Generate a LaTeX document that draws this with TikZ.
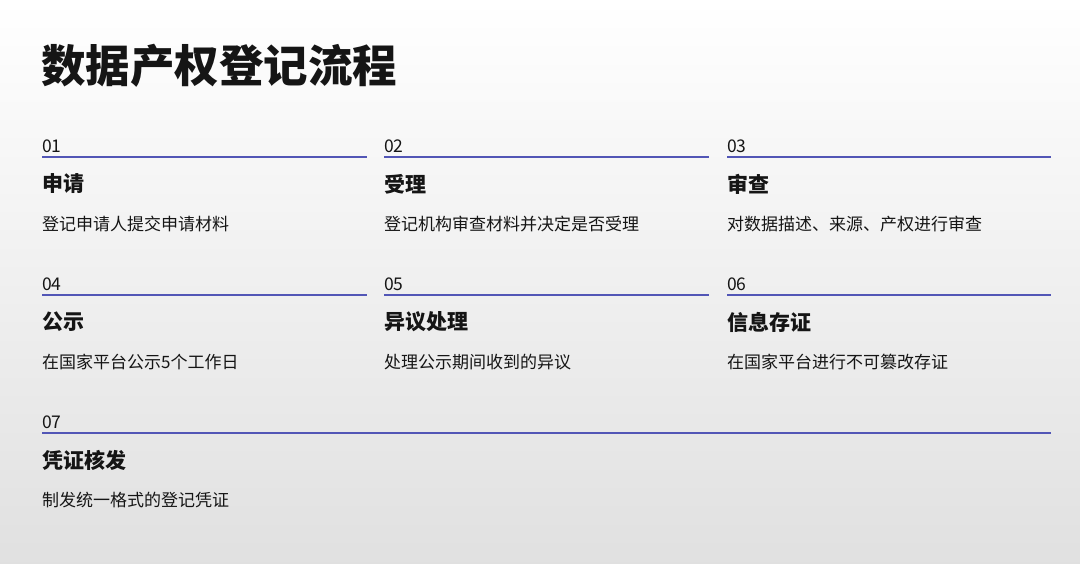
\documentclass[tikz,border=0pt]{standalone}
\usepackage{fontspec}
\setmainfont{Noto Sans CJK SC}
\usetikzlibrary{positioning}
\definecolor{ruleblue}{HTML}{5256B6}
\definecolor{inkdark}{HTML}{151515}

\begin{document}
\begin{tikzpicture}[x=1pt, y=1pt, text=inkdark, inner sep=0pt,
      num/.style={anchor=base west, font=\fontsize{17.5}{17.5}\selectfont},
      head/.style={anchor=west, font=\fontsize{21}{21}\selectfont\bfseries},
      desc/.style={anchor=west, font=\fontsize{17}{17}\selectfont},
      rule/.style={draw=ruleblue, line width=2.6pt}]
    % background
    \shade[top color=white, bottom color=black!12] (0,0) rectangle (1080,-563);
    \useasboundingbox (0,0) rectangle (1080,-563);
    \node[anchor=west, font=\fontsize{44.5}{44.5}\selectfont\bfseries] (title) at (41,-66) {数据产权登记流程};

    % row 1
    \node[num] (n01) at (42,-152) {01};
    \node[num] (n02) at (384,-152) {02};
    \node[num] (n03) at (727,-152) {03};
    \draw[rule] ([yshift=-5pt]n01.base west) -- ++(325,0);
    \draw[rule] ([yshift=-5pt]n02.base west) -- ++(325,0);
    \draw[rule] ([yshift=-5pt]n03.base west) -- ++(324,0);
    \node[head, below=32pt of n01.base west, anchor=west] (h01) {申请};
    \node[head, below=32pt of n02.base west, anchor=west] (h02) {受理};
    \node[head, below=32pt of n03.base west, anchor=west] (h03) {审查};
    \node[desc, below=40pt of h01.west, anchor=west] (d01) {登记申请人提交申请材料};
    \node[desc, below=40pt of h02.west, anchor=west] (d02) {登记机构审查材料并决定是否受理};
    \node[desc, below=40pt of h03.west, anchor=west] (d03) {对数据描述、来源、产权进行审查};

    % row 2
    \node[num] (n04) at (42,-290) {04};
    \node[num] (n05) at (384,-290) {05};
    \node[num] (n06) at (727,-290) {06};
    \draw[rule] ([yshift=-5pt]n04.base west) -- ++(325,0);
    \draw[rule] ([yshift=-5pt]n05.base west) -- ++(325,0);
    \draw[rule] ([yshift=-5pt]n06.base west) -- ++(324,0);
    \node[head, below=32pt of n04.base west, anchor=west] (h04) {公示};
    \node[head, below=32pt of n05.base west, anchor=west] (h05) {异议处理};
    \node[head, below=32pt of n06.base west, anchor=west] (h06) {信息存证};
    \node[desc, below=40pt of h04.west, anchor=west] (d04) {在国家平台公示5个工作日};
    \node[desc, below=40pt of h05.west, anchor=west] (d05) {处理公示期间收到的异议};
    \node[desc, below=40pt of h06.west, anchor=west] (d06) {在国家平台进行不可篡改存证};

    % row 3
    \node[num] (n07) at (42,-428) {07};
    \draw[rule] ([yshift=-5pt]n07.base west) -- ++(1009,0);
    \node[head, below=32pt of n07.base west, anchor=west] (h07) {凭证核发};
    \node[desc, below=40pt of h07.west, anchor=west] (d07) {制发统一格式的登记凭证};
  \end{tikzpicture}
\end{document}
